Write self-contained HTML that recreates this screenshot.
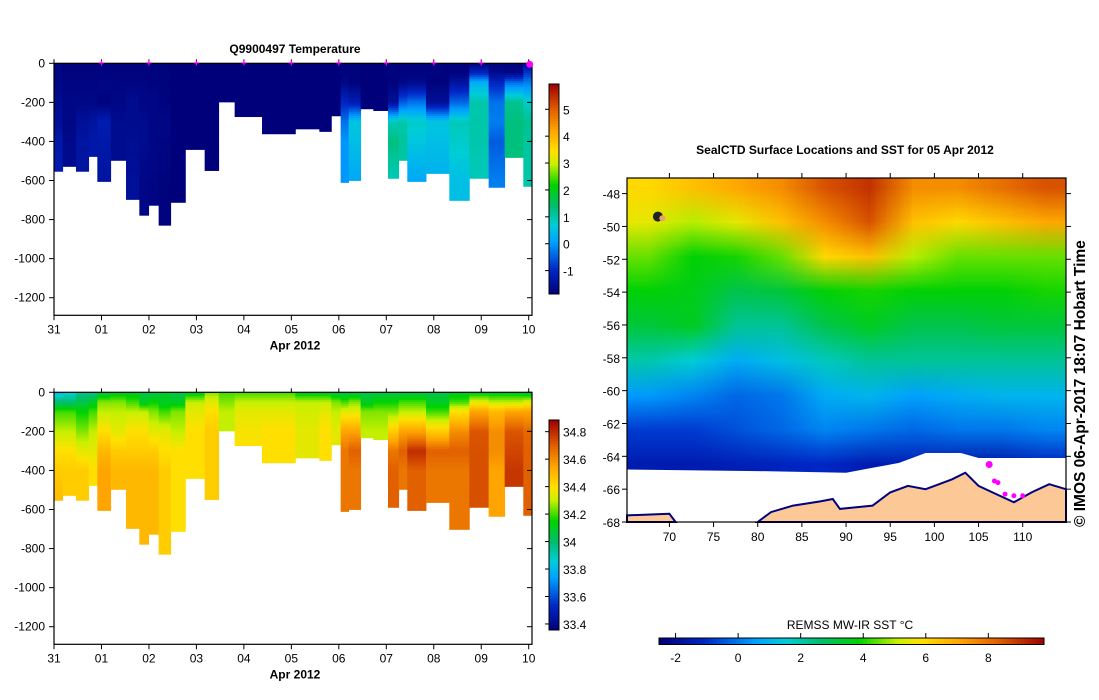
<!DOCTYPE html>
<html><head><meta charset="utf-8">
<style>
body{margin:0;background:#fff;width:1099px;height:700px;overflow:hidden;font-family:"Liberation Sans",sans-serif}
svg{position:absolute;left:0;top:0}
canvas{position:absolute}
text{font-family:"Liberation Sans",sans-serif;font-size:12px;fill:#000}
</style></head>
<body>
<canvas id="map" style="left:627px;top:178px" width="439" height="344"></canvas>
<svg id="s" width="1099" height="700"></svg>
<script>
// ---- profile data (days since 31 Mar 2012) ----
const times=[0,0.183,0.463,0.730,0.913,1.194,1.517,1.798,1.994,2.205,2.458,2.767,3.174,3.469,3.806,4.382,5.084,5.590,5.842,6.039,6.208,6.460,6.727,7.036,7.261,7.443,7.837,8.328,8.749,9.157,9.494,9.887];
const maxDepths=[553,528,553,477,605,497,697,778,727,829,712,441,549,198,273,361,336,349,269,610,600,233,242,589,497,605,564,702,589,635,482,630];
const levels=[0,50,100,200,300,400,600,850];
const tempProfiles=[
[-1.75,-1.75,-1.7,-1.6,-1.5,-1.3,-1.2,-1.2],
[-1.8,-1.8,-1.75,-1.7,-1.7,-1.65,-1.6,-1.6],
[-1.8,-1.8,-1.75,-1.7,-1.5,-1.4,-1.4,-1.4],
[-1.8,-1.8,-1.75,-1.7,-1.4,-1.3,-1.3,-1.3],
[-1.8,-1.8,-1.7,-1.8,-1.2,-1.3,-1.4,-1.4],
[-1.8,-1.8,-1.75,-1.7,-1.6,-1.6,-1.6,-1.6],
[-1.8,-1.8,-1.75,-1.6,-1.6,-1.55,-1.5,-1.5],
[-1.8,-1.8,-1.75,-1.7,-1.6,-1.6,-1.7,-1.7],
[-1.8,-1.8,-1.8,-1.7,-1.7,-1.7,-1.75,-1.75],
[-1.8,-1.8,-1.8,-1.8,-1.7,-1.75,-1.8,-1.8],
[-1.85,-1.85,-1.85,-1.85,-1.85,-1.85,-1.85,-1.85],
[-1.85,-1.85,-1.85,-1.85,-1.85,-1.85,-1.85,-1.85],
[-1.85,-1.85,-1.85,-1.85,-1.85,-1.85,-1.85,-1.85],
[-1.85,-1.85,-1.85,-1.85,-1.85,-1.85,-1.85,-1.85],
[-1.85,-1.85,-1.85,-1.85,-1.85,-1.85,-1.85,-1.85],
[-1.85,-1.85,-1.85,-1.85,-1.85,-1.85,-1.85,-1.85],
[-1.85,-1.85,-1.85,-1.85,-1.85,-1.85,-1.85,-1.85],
[-1.85,-1.85,-1.85,-1.85,-1.85,-1.85,-1.85,-1.85],
[-1.85,-1.85,-1.85,-1.85,-1.85,-1.85,-1.85,-1.85],
[-1.8,-1.8,-1.7,-1.0,-0.3,0,0,0],
[-1.8,-1.8,-1.8,-1.2,0.6,0.5,0.2,0.2],
[-1.85,-1.85,-1.85,-1.85,-1.85,-1.85,-1.85,-1.85],
[-1.85,-1.85,-1.85,-1.85,-1.85,-1.85,-1.85,-1.85],
[-1.8,-1.8,-1.8,-1.5,0.9,1.3,0.9,0.9],
[-1.8,-1.8,-1.7,-0.5,1.0,1.1,1.0,1.0],
[-1.8,-1.8,-1.6,-0.3,0.8,0.6,0.2,0.2],
[-1.8,-1.8,-1.8,-1.5,0.6,0.5,0.3,0.3],
[-1.8,-1.8,-1.4,-0.4,0.9,0.8,0.5,0.5],
[-1.8,-1.0,0.3,1.0,1.0,1.0,0.9,0.9],
[-1.8,-1.6,-1.0,-0.3,-0.2,-0.5,-0.2,-0.2],
[-1.8,-1.7,-0.3,1.2,1.3,1.3,1.3,1.3],
[-1.6,-0.8,-0.2,0.8,1.2,1.1,1.0,1.0]];
const salProfiles=[
[33.8,34.0,34.2,34.3,34.4,34.45,34.5,34.5],
[33.85,34.0,34.2,34.3,34.4,34.45,34.45,34.45],
[33.95,34.05,34.15,34.25,34.35,34.45,34.45,34.45],
[33.95,34.1,34.2,34.3,34.35,34.4,34.4,34.4],
[34.05,34.25,34.3,34.4,34.5,34.55,34.55,34.55],
[34.1,34.25,34.3,34.35,34.45,34.5,34.5,34.5],
[34.1,34.2,34.3,34.4,34.45,34.5,34.5,34.5],
[34.05,34.1,34.3,34.4,34.45,34.5,34.5,34.5],
[34.05,34.15,34.25,34.35,34.45,34.5,34.5,34.5],
[34.1,34.1,34.2,34.35,34.4,34.45,34.45,34.45],
[34.05,34.1,34.25,34.3,34.4,34.4,34.4,34.4],
[34.1,34.3,34.35,34.4,34.4,34.4,34.4,34.4],
[34.25,34.35,34.4,34.45,34.45,34.45,34.45,34.45],
[34.2,34.25,34.3,34.3,34.3,34.3,34.3,34.3],
[34.2,34.3,34.35,34.38,34.4,34.4,34.4,34.4],
[34.2,34.3,34.35,34.4,34.4,34.4,34.4,34.4],
[34.1,34.3,34.32,34.35,34.35,34.35,34.35,34.35],
[34.1,34.3,34.35,34.4,34.4,34.4,34.4,34.4],
[34.05,34.25,34.3,34.35,34.35,34.35,34.35,34.35],
[34.05,34.2,34.35,34.55,34.65,34.65,34.65,34.65],
[34.05,34.25,34.35,34.55,34.7,34.65,34.65,34.65],
[34.05,34.1,34.25,34.3,34.3,34.3,34.3,34.3],
[34.05,34.15,34.25,34.3,34.3,34.3,34.3,34.3],
[34.05,34.15,34.25,34.45,34.65,34.7,34.7,34.7],
[34.05,34.2,34.3,34.55,34.7,34.65,34.65,34.65],
[34.05,34.2,34.3,34.55,34.8,34.7,34.7,34.7],
[34.05,34.1,34.2,34.45,34.7,34.65,34.65,34.65],
[34.1,34.2,34.4,34.6,34.7,34.65,34.65,34.65],
[34.1,34.35,34.55,34.72,34.73,34.73,34.73,34.73],
[34.1,34.3,34.5,34.6,34.6,34.55,34.55,34.55],
[34.1,34.3,34.55,34.72,34.75,34.78,34.78,34.78],
[34.05,34.35,34.55,34.68,34.7,34.7,34.7,34.7]];
const dayLabels=["31","01","02","03","04","05","06","07","08","09","10"];
const depthTicks=[0,-200,-400,-600,-800,-1000,-1200];
const tempTicks=[-1,0,1,2,3,4,5];
const salTicks=[33.4,33.6,33.8,34,34.2,34.4,34.6,34.8];
// ---- SST map data ----
const sstLats=[-48,-50,-52,-54,-56,-58,-60,-62,-64];
const sstLons=[67.5,72.5,77.5,82.5,87.5,92.5,97.5,102.5,107.5,112.5];
const sstGrid=[
[6,6.5,7,7.5,8.5,9,7.5,7.5,8,8.5],
[5.5,5,5.5,6.5,7.5,8.5,6.5,6,6.5,7],
[4.5,3.8,4,4.5,6,6.5,5,4.5,4.5,4.5],
[3.8,3.6,3,3.2,3.8,4,3.8,3.8,3.8,4],
[3.2,3.5,2.2,2.2,3,3.5,3,3,3.2,3.2],
[2,1.5,0.8,1.2,1.8,2.2,2.2,2.2,2.2,2.2],
[0.5,0.2,-0.2,0,0.8,1,0.6,0.8,1,1],
[-0.8,-0.8,-0.5,-0.2,0.2,0,-0.2,0,0,0.2],
[-1.5,-1.5,-1.4,-1.2,-1.1,-1.5,-1.4,-1.6,-1.6,-1.2]];
const lonTicks=[70,75,80,85,90,95,100,105,110];
const latTicks=[-48,-50,-52,-54,-56,-58,-60,-62,-64,-66,-68];
const sstTicks=[-2,0,2,4,6,8];
const sealLons=[106.2,106.8,107.2,108,109,110];
const sealLats=[-64.5,-65.5,-65.6,-66.3,-66.4,-66.4];

const NS="http://www.w3.org/2000/svg";
const S=document.getElementById('s');
function el(tag,attrs,parent){const e=document.createElementNS(NS,tag);for(const k in attrs)e.setAttribute(k,attrs[k]);(parent||S).appendChild(e);return e;}
function txt(x,y,s,anchor,extra,parent){const t=el('text',Object.assign({x:x,y:y,'text-anchor':anchor||'middle'},extra||{}),parent);t.textContent=s;return t;}
const stops=[[0,0,0,120],[0.12,0,40,200],[0.25,0,160,255],[0.33,0,205,215],[0.42,0,190,110],[0.52,0,210,0],[0.62,200,240,0],[0.68,255,225,0],[0.78,255,165,0],[0.88,225,95,0],[1,160,0,0]];
function cmap(t){t=Math.max(0,Math.min(1,t));for(let i=1;i<stops.length;i++){if(t<=stops[i][0]){const a=stops[i-1],b=stops[i],f=(t-a[0])/(b[0]-a[0]);return 'rgb('+[1,2,3].map(k=>Math.round(a[k]+f*(b[k]-a[k]))).join(',')+')';}}return 'rgb(160,0,0)';}
function interp(vals,d){for(let i=1;i<levels.length;i++){if(d<=levels[i]){const f=(d-levels[i-1])/(levels[i]-levels[i-1]);return vals[i-1]+f*(vals[i]-vals[i-1]);}}return vals[vals.length-1];}

function profilePlot(name,top,bottom,profiles,vmin,vmax,cbTop,cbBot,cbTicks,cbFmt,showMarkers){
  const L=54,R=532,dMax=1290;
  const X=d=>L+d*47.47;
  const Y=z=>top+(-z)/dMax*(bottom-top);
  const g=el('g',{});
  
  
  for(let i=0;i<times.length;i++){
    const x0=X(times[i]),x1=i+1<times.length?X(times[i+1]):R;
    const col=el('g',{},g);
    
    
    for(let d=0;d<maxDepths[i];d+=10){
      const d2=Math.min(d+10,maxDepths[i]);
      const v=interp(profiles[i],d+5);
      el('rect',{x:x0,y:Y(-d),width:x1-x0+0.4,height:Y(-d2)-Y(-d)+0.4,fill:cmap((v-vmin)/(vmax-vmin))},col);
    }
  }
  el('rect',{x:L,y:top,width:R-L,height:bottom-top,fill:'none',stroke:'#000','stroke-width':1.2},g);
  depthTicks.forEach(v=>{const y=Y(v);el('line',{x1:L-5,y1:y,x2:L,y2:y,stroke:'#000'},g);el('line',{x1:R,y1:y,x2:R-5,y2:y,stroke:'#000'},g);txt(L-9,y+4,String(v),'end',{},g);});
  dayLabels.forEach((s,i)=>{const x=X(i);el('line',{x1:x,y1:bottom,x2:x,y2:bottom+5,stroke:'#000'},g);el('line',{x1:x,y1:top,x2:x,y2:top-4,stroke:'#000'},g);txt(x,bottom+18,s,'middle',{},g);});
  txt(295,bottom+34,'Apr 2012','middle',{'font-weight':'bold'},g);
  if(showMarkers){for(let i=1;i<=9;i++){const m=el('text',{x:X(i),y:top+3,'text-anchor':'middle',style:'fill:#ff00ff;font-size:10px;font-weight:bold'},g);m.textContent='+';}
    el('circle',{cx:X(10)+1,cy:top+1,r:3.5,fill:'#ff00ff'},g);}
  const cb=el('g',{},g);
  
  
  const n=80,CY=v=>cbBot-(v-vmin)/(vmax-vmin)*(cbBot-cbTop);
  for(let k=0;k<n;k++){const y0=cbBot-(k+1)*(cbBot-cbTop)/n;el('rect',{x:549,y:y0,width:10,height:(cbBot-cbTop)/n+0.5,fill:cmap((k+0.5)/n)},cb);}
  el('rect',{x:549,y:cbTop,width:10,height:cbBot-cbTop,fill:'none',stroke:'#000'},cb);
  cbTicks.forEach(v=>{const y=CY(v);el('line',{x1:545,y1:y,x2:549,y2:y,stroke:'#000'},cb);txt(563,y+5,cbFmt(v),'start',{},cb);});
}
txt(295,53,'Q9900497  Temperature','middle',{'font-weight':'bold'});
profilePlot('temperature',63.3,315.3,tempProfiles,-1.87,5.94,84,294,tempTicks,v=>String(v),true);
profilePlot('salinity',392.3,644.3,salProfiles,33.356,34.885,420,630,salTicks,v=>String(v),false);

// ---- map ----
const mL=627,mR=1066,mT=178,mB=522,lon0=65.2,lon1=114.9,lat0=-47.05,lat1=-68.0;
const MX=lo=>mL+(lo-lon0)/(lon1-lon0)*(mR-mL);
const MY=la=>mT+(la-lat0)/(lat1-lat0)*(mB-mT);
const sMin=-2.53,sMax=9.78;
(function(){
  const small=document.createElement('canvas');small.width=sstLons.length;small.height=sstLats.length;
  const c=small.getContext('2d');
  sstLats.forEach((la,r)=>sstLons.forEach((lo,k)=>{c.fillStyle=cmap((sstGrid[r][k]-sMin)/(sMax-sMin));c.fillRect(k,r,1,1);}));
  const m=document.getElementById('map').getContext('2d');
  m.imageSmoothingEnabled=true;
  const x0=MX(sstLons[0]-2.5)-mL,x1=MX(sstLons[sstLons.length-1]+2.5)-mL,y0=MY(sstLats[0]+1)-mT,y1=MY(sstLats[sstLats.length-1]-1)-mT;
  m.drawImage(small,x0,y0-8,x1-x0,y1-y0+16);
})();
const mg=el('g',{});


const pts=a=>a.map(p=>MX(p[0]).toFixed(1)+','+MY(p[1]).toFixed(1)).join(' ');
const ice=[[65.2,-64.8],[80,-64.9],[90,-65.0],[93,-64.7],[96,-64.4],[99,-63.8],[103,-63.8],[105,-64.1],[115,-64.1],[115,-68],[65.2,-68]];
const iceEl=el('polygon',{points:pts(ice),fill:'#fff'},mg);

const land=[[80,-68],[81.5,-67.4],[84,-67.0],[87,-66.75],[88.5,-66.6],[89.3,-67.2],[93,-67.0],[95,-66.2],[97,-65.8],[99,-66.0],[100,-65.8],[102,-65.4],[103.5,-65.0],[105,-65.8],[107,-66.3],[109,-66.8],[111,-66.2],[113,-65.7],[114.9,-66.0],[114.9,-68]];
const landEl=el('polygon',{points:pts(land),fill:'#fcc896',stroke:'#000080','stroke-width':2},mg);

el('polygon',{points:pts([[65.2,-67.6],[70,-67.5],[70.7,-68],[65.2,-68]]),fill:'#fcc896',stroke:'#000080','stroke-width':2},mg);
el('rect',{x:mL,y:mT,width:mR-mL,height:mB-mT,fill:'none',stroke:'#000','stroke-width':1.2},mg);
el('circle',{cx:MX(68.7),cy:MY(-49.4),r:5,fill:'#222'},mg);
el('circle',{cx:MX(69.2),cy:MY(-49.5),r:3,fill:'#e8a070'},mg);
sealLons.forEach((lo,i)=>{const d=el('circle',{cx:MX(lo),cy:MY(sealLats[i]),r:i==0?3.5:2.5,fill:'#ff00ff'},mg);});
lonTicks.forEach(v=>{const x=MX(v);el('line',{x1:x,y1:mB,x2:x,y2:mB+5,stroke:'#000'},mg);el('line',{x1:x,y1:mT,x2:x,y2:mT-5,stroke:'#000'},mg);txt(x,541,String(v),'middle',{},mg);});
latTicks.forEach(v=>{const y=MY(v);el('line',{x1:mL-5,y1:y,x2:mL,y2:y,stroke:'#000'},mg);el('line',{x1:mR,y1:y,x2:mR+5,y2:y,stroke:'#000'},mg);txt(620,y+5,String(v),'end',{},mg);});
txt(845,154,'SealCTD Surface Locations and SST for 05 Apr 2012','middle',{'font-weight':'bold'});
const stamp=txt(0,0,'© IMOS 06-Apr-2017 18:07 Hobart Time','start',{transform:'translate(1085,527) rotate(-90)',style:'font-size:15.5px;font-weight:bold'});

const scb=el('g',{});


const cL=659,cR=1044;const CX=v=>cL+(v-sMin)/(sMax-sMin)*(cR-cL);
for(let k=0;k<100;k++){el('rect',{x:cL+k*(cR-cL)/100,y:638,width:(cR-cL)/100+0.5,height:6.5,fill:cmap((k+0.5)/100)},scb);}
el('rect',{x:cL,y:638,width:cR-cL,height:6.5,fill:'none',stroke:'#000'},scb);
sstTicks.forEach(v=>{const x=CX(v);el('line',{x1:x,y1:633,x2:x,y2:638,stroke:'#000'},scb);txt(x,662,String(v),'middle',{},scb);});
txt(850,629,'REMSS MW-IR SST °C','middle',{},scb);
</script>
</body></html>
